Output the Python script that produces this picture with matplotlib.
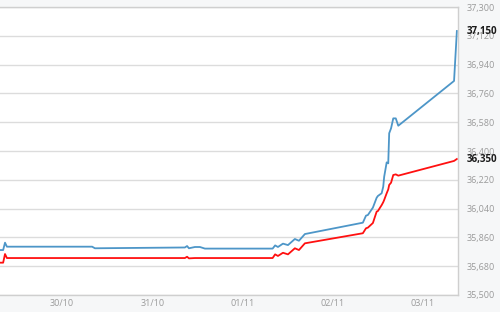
import matplotlib
matplotlib.use("Agg")
import matplotlib.pyplot as plt
import matplotlib.dates as mdates
import pandas as pd

# time stamps (year is arbitrary)
times = ["10-29 07:30", "10-29 08:20", "10-29 08:50", "10-29 09:20",
         "10-30 08:00", "10-30 08:45", "10-31 08:40", "10-31 09:15",
         "10-31 09:45", "10-31 11:20", "10-31 12:40", "10-31 14:00",
         "11-01 08:00", "11-01 08:40", "11-01 09:25", "11-01 10:45",
         "11-01 12:05", "11-01 13:55", "11-01 15:00", "11-01 16:35",
         "11-02 08:00", "11-02 08:50", "11-02 09:20", "11-02 10:40",
         "11-02 11:40", "11-02 12:00", "11-02 13:00", "11-02 13:25",
         "11-02 13:40", "11-02 14:20", "11-02 14:45", "11-02 15:00",
         "11-02 15:30", "11-02 16:05", "11-02 16:45", "11-02 17:25",
         "11-03 08:15", "11-03 09:00"]

blue_vals = [35781, 35781, 35827, 35802, 35802, 35792, 35797, 35806,
             35792, 35800, 35800, 35790, 35790, 35810, 35800, 35821,
             35812, 35850, 35839, 35881, 35952, 35996, 36000, 36046,
             36108, 36119, 36136, 36177, 36239, 36329, 36323, 36511,
             36542, 36604, 36604, 36558, 36838, 37150]

red_vals = [35702, 35702, 35756, 35731, 35731, 35731, 35731, 35739,
            35729, 35731, 35731, 35731, 35731, 35754, 35744, 35764,
            35754, 35792, 35781, 35823, 35886, 35917, 35921, 35950,
            36021, 36025, 36062, 36080, 36094, 36136, 36160, 36188,
            36202, 36250, 36254, 36246, 36338, 36350]

y_ticks = [35500, 35680, 35860, 36040, 36220, 36400, 36580, 36760, 36940, 37120, 37300]
x_ticks = ["10-30", "10-31", "11-01", "11-02", "11-03"]
last_labels = ["37,150", "36,350"]

t = pd.to_datetime(["2014-" + s for s in times])
xt = pd.to_datetime(["2014-" + s for s in x_ticks])

fig = plt.figure(figsize=(5, 3.12), dpi=100, facecolor="#f6f7f8")
ax = fig.add_axes([0.0, 0.0545, 0.916, 0.923])
ax.set_facecolor("white")

ax.plot(t, blue_vals, color="#4d96c8", lw=1.3, solid_joinstyle="round")
ax.plot(t, red_vals, color="#ff1010", lw=1.3, solid_joinstyle="round")

ax.set_xlim(pd.Timestamp("2014-10-29 07:30"), pd.Timestamp("2014-11-03 09:18"))
ax.set_ylim(35500, 37300)
ax.set_yticks(y_ticks)
ax.set_yticklabels([f"{v:,}" for v in y_ticks])
ax.yaxis.tick_right()
ax.set_xticks(xt)
ax.xaxis.set_major_formatter(mdates.DateFormatter("%d/%m"))

ax.grid(axis="y", color="#dcdcdc", lw=1)
ax.tick_params(axis="both", length=0, labelsize=6.5, labelcolor="#9a9a9a")
ax.tick_params(axis="y", pad=6.5)
ax.tick_params(axis="x", pad=3)
for s in ax.spines.values():
    s.set_color("#cfcfcf")
    s.set_linewidth(1)
ax.spines["left"].set_visible(False)

# current values, drawn over the axis labels as in the original
for lbl, v in zip(last_labels, [blue_vals[-1], red_vals[-1]]):
    ax.annotate(lbl, xy=(1, v), xycoords=("axes fraction", "data"),
                xytext=(6.5, 0), textcoords="offset points",
                ha="left", va="center", fontsize=7.0, fontweight="bold",
                color="#1a1a1a", family="Open Sans")

for lab in ax.get_xticklabels() + ax.get_yticklabels():
    lab.set_family("Open Sans")

fig.savefig("out.png", dpi=100, facecolor=fig.get_facecolor())
